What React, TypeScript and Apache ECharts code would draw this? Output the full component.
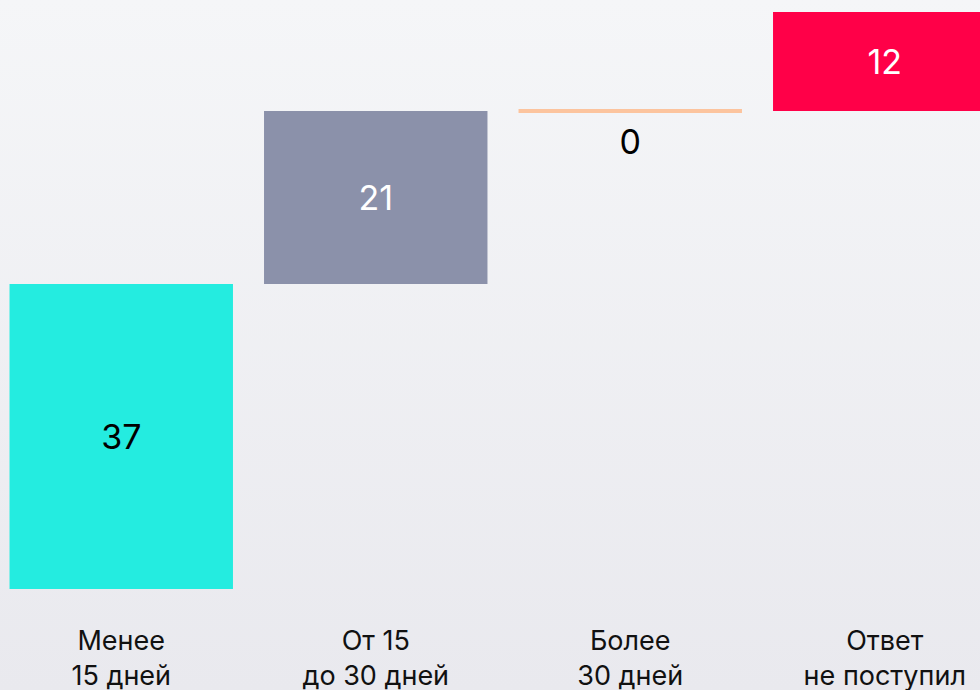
import React, { useEffect, useRef } from "react";
import * as echarts from "echarts";

const categories = ["Менее\n15 дней", "От 15\nдо 30 дней", "Более\n30 дней", "Ответ\nне поступил"];
const values = [37, 21, 0, 12];
const colors = ["#24ece0", "#8b91aa", "#fcc49e", "#ff0048"];
const labelColors = ["#000000", "#ffffff", "#000000", "#ffffff"];

export default function App() {
  const ref = useRef<HTMLDivElement>(null);
  useEffect(() => {
    if (!ref.current) return;
    const chart = echarts.init(ref.current, null, { renderer: "svg" });
    const bases: number[] = [];
    let acc = 0;
    values.forEach((v) => {
      bases.push(acc);
      acc += v;
    });
    const data = values.map((v, i) => [i, bases[i], bases[i] + v, v]);
    chart.setOption({
      animation: false,
      grid: {
        left: 0,
        right: 0,
        top: 12,
        bottom: 101,
        containLabel: false,
        outerBoundsMode: "none",
      },
      xAxis: {
        type: "category",
        data: categories,
        axisLine: { show: false },
        axisTick: { show: false },
        axisLabel: {
          color: "#111111",
          fontSize: 27,
          fontFamily: "Inter",
          lineHeight: 35,
          margin: 34,
          interval: 0,
        },
      },
      yAxis: {
        type: "value",
        min: 0,
        max: 70,
        show: false,
        splitLine: { show: false },
      },
      series: [
        {
          type: "custom",
          data,
          encode: { x: 0, y: [1, 2] },
          renderItem: (params: any, api: any) => {
            const idx = api.value(0);
            const start = api.coord([idx, api.value(1)]);
            const end = api.coord([idx, api.value(2)]);
            const v = api.value(3);
            const bw = api.size([1, 0])[0] * 0.878;
            const x = start[0] - bw / 2;
            const i = params.dataIndex;
            const children: any[] = [];
            if (v === 0) {
              children.push({
                type: "rect",
                shape: { x, y: end[1] - 2, width: bw, height: 4 },
                style: { fill: colors[i] },
              });
              children.push({
                type: "text",
                style: {
                  text: String(v),
                  x: start[0],
                  y: end[1] + 31,
                  align: "center",
                  verticalAlign: "middle",
                  fill: labelColors[i],
                  fontSize: 34,
                  fontFamily: "Inter",
                },
              });
            } else {
              children.push({
                type: "rect",
                shape: { x, y: end[1], width: bw, height: start[1] - end[1] },
                style: { fill: colors[i] },
              });
              children.push({
                type: "text",
                style: {
                  text: String(v),
                  x: start[0],
                  y: (start[1] + end[1]) / 2,
                  align: "center",
                  verticalAlign: "middle",
                  fill: labelColors[i],
                  fontSize: 34,
                  fontFamily: "Inter",
                },
              });
            }
            return { type: "group", children };
          },
        },
      ],
    });
    return () => chart.dispose();
  }, []);
  return (
    <div
      style={{
        position: "fixed",
        left: 0,
        top: 0,
        width: 980,
        height: 690,
        overflow: "hidden",
        background: "linear-gradient(180deg, #f5f6f8 0%, #e9e9ee 100%)",
      }}
    >
      <div
        ref={ref}
        style={{ position: "absolute", left: -6.5, top: 0, width: 1017.5, height: 690 }}
      />
    </div>
  );
}
